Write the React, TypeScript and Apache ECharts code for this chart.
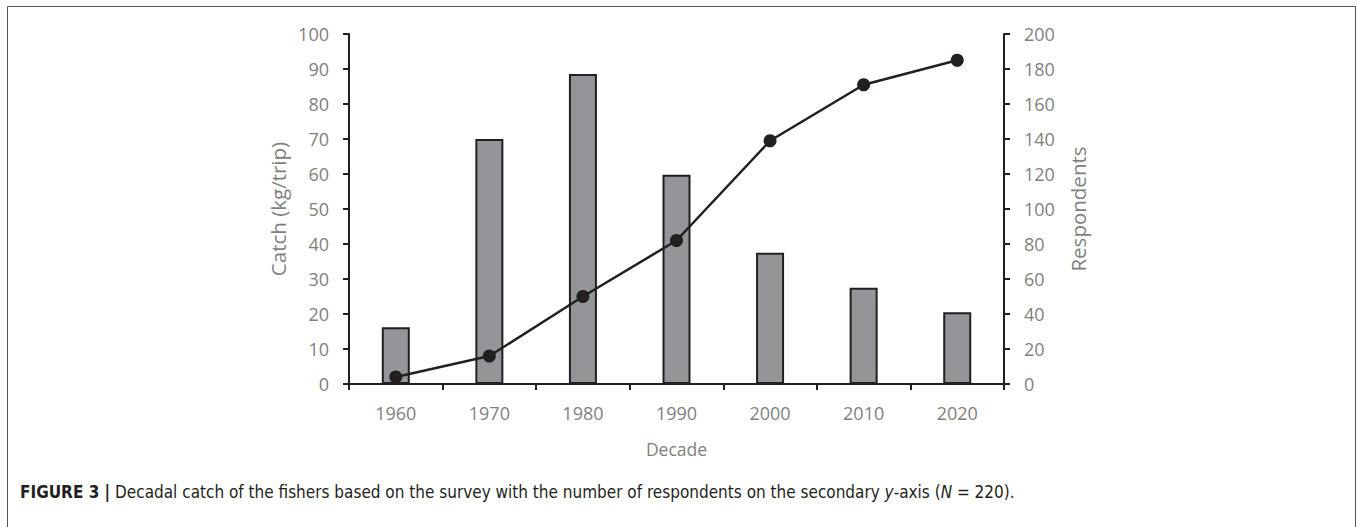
import React, { useEffect, useRef } from "react";
import * as echarts from "echarts";

const decades = ["1960", "1970", "1980", "1990", "2000", "2010", "2020"];
const catchKgPerTrip = [16.2, 70, 88.6, 59.8, 37.5, 27.5, 20.5];
const respondents = [4, 16, 50, 82, 139, 171, 185];
const leftTicks = { min: 0, max: 100, interval: 10 };
const rightTicks = { min: 0, max: 200, interval: 20 };

const DARK = "#231f20";
const GREY_TEXT = "#7f7f7f";
const FONT = "'Open Sans', sans-serif";
const CAP_FONT = "'Liberation Sans Narrow', 'Arial Narrow', 'DejaVu Sans Condensed', sans-serif";

export default function App() {
  const ref = useRef<HTMLDivElement>(null);
  useEffect(() => {
    if (!ref.current) return;
    const chart = echarts.init(ref.current, undefined, { renderer: "svg" });
    chart.setOption({
      animation: false,
      backgroundColor: "#ffffff",
      grid: { left: 349, right: 353, top: 34, bottom: 143, containLabel: false },
      xAxis: {
        type: "category",
        data: decades,
        boundaryGap: true,
        name: "Decade",
        nameLocation: "middle",
        nameGap: 56,
        nameTextStyle: { color: GREY_TEXT, fontSize: 17.5, fontFamily: FONT },
        axisLine: { lineStyle: { color: DARK, width: 2 } },
        axisTick: { show: true, length: 6, alignWithLabel: false, lineStyle: { color: DARK, width: 2 } },
        axisLabel: { color: GREY_TEXT, fontSize: 18, fontFamily: FONT, margin: 20 },
      },
      yAxis: [
        {
          type: "value",
          position: "left",
          min: leftTicks.min,
          max: leftTicks.max,
          interval: leftTicks.interval,
          name: "Catch (kg/trip)",
          nameLocation: "middle",
          nameGap: 61,
          nameTextStyle: { color: GREY_TEXT, fontSize: 20.5, fontFamily: FONT },
          axisLine: { show: true, lineStyle: { color: DARK, width: 2 } },
          axisTick: { show: true, length: 6, lineStyle: { color: DARK, width: 2 } },
          axisLabel: { color: GREY_TEXT, fontSize: 18, fontFamily: FONT, margin: 20 },
          splitLine: { show: false },
        },
        {
          type: "value",
          position: "right",
          min: rightTicks.min,
          max: rightTicks.max,
          interval: rightTicks.interval,
          name: "Respondents",
          nameLocation: "middle",
          nameGap: 63,
          nameTextStyle: { color: GREY_TEXT, fontSize: 20.5, fontFamily: FONT },
          axisLine: { show: true, lineStyle: { color: DARK, width: 2 } },
          axisTick: { show: true, length: 6, lineStyle: { color: DARK, width: 2 } },
          axisLabel: { color: GREY_TEXT, fontSize: 18, fontFamily: FONT, margin: 20 },
          splitLine: { show: false },
        },
      ],
      series: [
        {
          type: "bar",
          yAxisIndex: 0,
          data: catchKgPerTrip,
          barWidth: 28,
          itemStyle: { color: "#939598", borderColor: DARK, borderWidth: 2 },
          z: 2,
        },
        {
          type: "line",
          yAxisIndex: 1,
          data: respondents,
          symbol: "circle",
          symbolSize: 13,
          lineStyle: { color: DARK, width: 2.5 },
          itemStyle: { color: DARK },
          z: 3,
        },
      ],
      graphic: [
        {
          type: "rect",
          shape: { x: 7.5, y: 6.5, width: 1348, height: 540 },
          style: { fill: "none", stroke: "#555555", lineWidth: 1 },
          silent: true,
          z: -10,
        },
        {
          type: "text",
          x: 20,
          y: 492,
          style: {
            text: "{b|FIGURE 3 |} Decadal catch of the fishers based on the survey with the number of respondents on the secondary {i|y}-axis ({i|N} = 220).",
            fill: DARK,
            font: `17px ${CAP_FONT}`,
            verticalAlign: "middle",
            rich: {
              b: { fontWeight: "bold", fontSize: 17, fontFamily: CAP_FONT, fill: DARK },
              i: { fontStyle: "italic", fontSize: 17, fontFamily: CAP_FONT, fill: DARK },
            },
          },
        },
      ],
    });
    return () => chart.dispose();
  }, []);
  return (
    <div
      ref={ref}
      style={{ position: "fixed", left: 0, top: 0, width: 1357, height: 527, background: "#fff" }}
    />
  );
}
